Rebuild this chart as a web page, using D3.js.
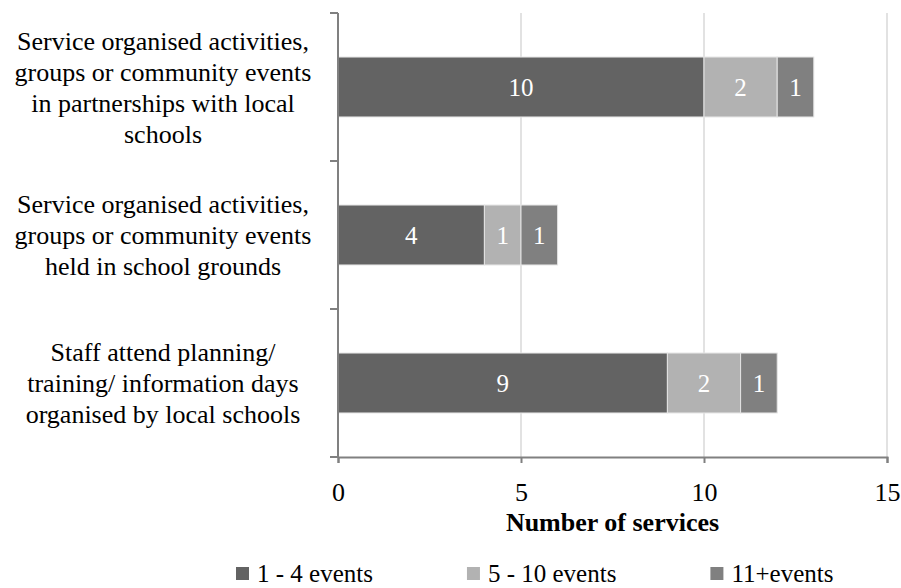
<!DOCTYPE html>
<html>
<head>
<meta charset="utf-8">
<script src="https://cdn.jsdelivr.net/npm/d3@7"></script>
<style>
  html, body { margin: 0; padding: 0; background: #fff; }
  svg { display: block; }
  text { font-family: "Liberation Serif", "Times New Roman", serif; }
</style>
</head>
<body>
<svg id="chart" width="901" height="588"></svg>
<script>
// Category labels (top to bottom), one array entry per wrapped line
const categories = [
  ["Service organised activities,", "groups or community events", "in partnerships with local", "schools"],
  ["Service organised activities,", "groups or community events", "held in school grounds"],
  ["Staff attend planning/", "training/ information days", "organised by local schools"]
];
const seriesNames = ["1 - 4 events", "5 - 10 events", "11+events"];
const seriesColors = ["#636363", "#b2b2b2", "#808080"];
const events1to4 = [10, 4, 9];
const events5to10 = [2, 1, 2];
const events11plus = [1, 1, 1];
const xTicks = [0, 5, 10, 15];
const xTitle = "Number of services";

const svg = d3.select("#chart");
const margin = { left: 338, right: 14, top: 13, bottom: 131 };
const W = 901, H = 588;
const plotL = margin.left, plotR = W - margin.right;
const plotT = margin.top, plotB = H - margin.bottom;

const rows = categories.map((c, i) => ({
  key: i,
  lines: c,
  "0": events1to4[i],
  "1": events5to10[i],
  "2": events11plus[i]
}));

const x = d3.scaleLinear().domain([0, 15]).range([plotL, plotR]);
const y = d3.scaleBand()
  .domain(rows.map(r => r.key))
  .range([plotT, plotB])
  .paddingInner(0.595)
  .paddingOuter(0.2975);

const stack = d3.stack().keys(["0", "1", "2"]);
const stacked = stack(rows);

// vertical gridlines
svg.append("g")
  .selectAll("line")
  .data(xTicks.filter(t => t > 0))
  .join("line")
  .attr("x1", d => x(d)).attr("x2", d => x(d))
  .attr("y1", plotT).attr("y2", plotB)
  .attr("stroke", "#d9d9d9").attr("stroke-width", 1.5);

// stacked bars
const layers = svg.append("g")
  .selectAll("g")
  .data(stacked)
  .join("g")
  .attr("fill", (d, i) => seriesColors[i]);

layers.selectAll("rect")
  .data(d => d)
  .join("rect")
  .attr("x", d => x(d[0]))
  .attr("y", d => y(d.data.key))
  .attr("width", d => x(d[1]) - x(d[0]))
  .attr("height", y.bandwidth())
  .attr("stroke", "#e4e4e4")
  .attr("stroke-width", 1);

// value labels inside segments
layers.selectAll("text")
  .data(d => d.map(v => ({ v, value: v[1] - v[0] })))
  .join("text")
  .attr("x", d => (x(d.v[0]) + x(d.v[1])) / 2)
  .attr("y", d => y(d.v.data.key) + y.bandwidth() / 2)
  .attr("dy", "0.35em")
  .attr("text-anchor", "middle")
  .attr("fill", "#fff")
  .attr("font-size", 25)
  .text(d => d.value);

// y axis line with band-boundary ticks
const bandEdges = [plotT].concat(rows.map(r => y(r.key) - y.step() * y.paddingInner() / 2 + y.step()));
svg.append("line")
  .attr("x1", plotL).attr("x2", plotL)
  .attr("y1", plotT).attr("y2", plotB)
  .attr("stroke", "#808080").attr("stroke-width", 2);
svg.append("g")
  .selectAll("line")
  .data(bandEdges)
  .join("line")
  .attr("x1", plotL - 8).attr("x2", plotL)
  .attr("y1", d => d).attr("y2", d => d)
  .attr("stroke", "#808080").attr("stroke-width", 2);

// x axis
const xAxis = svg.append("g")
  .attr("transform", `translate(0,${plotB})`)
  .call(d3.axisBottom(x).tickValues(xTicks).tickSize(6).tickPadding(20).tickFormat(d3.format("d")));
xAxis.select(".domain").attr("stroke", "#808080").attr("stroke-width", 2);
xAxis.selectAll(".tick line").attr("stroke", "#808080").attr("stroke-width", 2);
xAxis.selectAll(".tick text")
  .attr("font-family", "Liberation Serif, Times New Roman, serif")
  .attr("font-size", 26)
  .attr("fill", "#000");

// x axis title
svg.append("text")
  .attr("x", (plotL + plotR) / 2)
  .attr("y", 522)
  .attr("dy", "0.35em")
  .attr("text-anchor", "middle")
  .attr("font-size", 26)
  .attr("font-weight", "bold")
  .attr("fill", "#000")
  .text(xTitle);

// category labels, centered to the left of the axis
const lineH = 31;
const catG = svg.append("g");
rows.forEach(r => {
  const cy = y(r.key) + y.bandwidth() / 2;
  const n = r.lines.length;
  const t = catG.append("text")
    .attr("text-anchor", "middle")
    .attr("font-size", 26)
    .attr("fill", "#000");
  r.lines.forEach((ln, j) => {
    t.append("tspan")
      .attr("x", 163)
      .attr("y", cy + (j - (n - 1) / 2) * lineH)
      .attr("dy", "0.35em")
      .text(ln);
  });
});

// legend
const legend = svg.append("g");
let lx = 236;
const ly = 573;
seriesNames.forEach((name, i) => {
  legend.append("rect")
    .attr("x", lx).attr("y", ly - 6)
    .attr("width", 13).attr("height", 13)
    .attr("fill", seriesColors[i]);
  const t = legend.append("text")
    .attr("x", lx + 21).attr("y", ly)
    .attr("dy", "0.35em")
    .attr("font-size", 25)
    .attr("fill", "#000")
    .text(name);
  lx += 21 + t.node().getComputedTextLength() + 94;
});
</script>
</body>
</html>
